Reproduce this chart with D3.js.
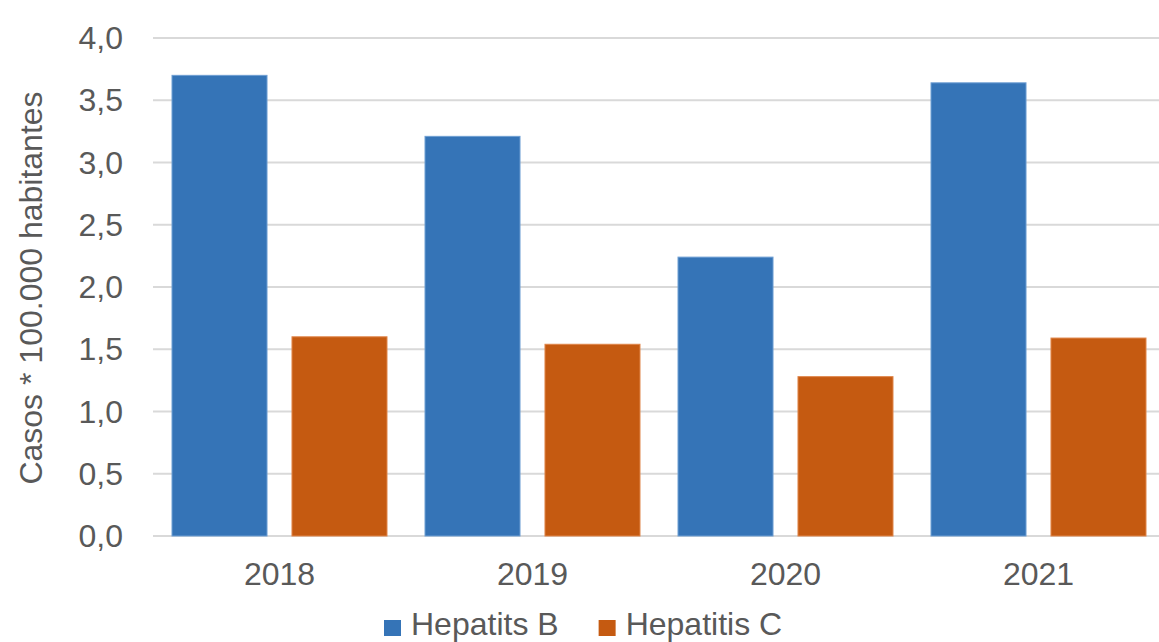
<!DOCTYPE html>
<html>
<head>
<meta charset="utf-8">
<script src="https://d3js.org/d3.v7.min.js"></script>
<style>
  body { margin: 0; background: #fff; }
  text { font-family: "Liberation Sans", Arial, sans-serif; fill: #595959; }
</style>
</head>
<body>
<div id="chart"></div>
<script>
// data
const years = ["2018", "2019", "2020", "2021"];
const seriesNames = ["Hepatits B", "Hepatitis C"];
const hepB = [3.70, 3.21, 2.24, 3.64];
const hepC = [1.60, 1.54, 1.28, 1.59];
const yTicks = [0, 0.5, 1, 1.5, 2, 2.5, 3, 3.5, 4];
const colors = ["#3574b7", "#c55a11"];
const strokes = ["#6f9fd3", "#e0864a"];

const width = 1159, height = 642;
const margin = {left: 153, right: -6, top: 38, bottom: 106};

const svg = d3.select("#chart").append("svg")
  .attr("width", width)
  .attr("height", height);

const x0 = d3.scaleBand()
  .domain(years)
  .range([margin.left, width - margin.right])
  .padding(0);

const x1 = d3.scaleBand()
  .domain(seriesNames)
  .range([19, x0.bandwidth() - 19])
  .paddingInner(0.208);

const y = d3.scaleLinear()
  .domain([0, 4])
  .range([height - margin.bottom, margin.top]);

// gridlines
svg.append("g")
  .selectAll("line")
  .data(yTicks)
  .enter()
  .append("line")
  .attr("x1", margin.left)
  .attr("x2", width - margin.right)
  .attr("y1", d => y(d))
  .attr("y2", d => y(d))
  .style("stroke", "#d9d9d9")
  .style("stroke-width", 2);

// y labels
const fmt = d => d3.format(".1f")(d).replace(".", ",");
svg.append("g")
  .selectAll("text")
  .data(yTicks)
  .enter()
  .append("text")
  .attr("x", 123)
  .attr("y", d => y(d))
  .attr("dy", "0.35em")
  .attr("text-anchor", "end")
  .style("font-size", "32px")
  .text(fmt);

// bars
const rows = years.map((yr, i) => ({year: yr, vals: [hepB[i], hepC[i]]}));
const groups = svg.append("g")
  .selectAll("g")
  .data(rows)
  .enter()
  .append("g")
  .attr("transform", d => `translate(${x0(d.year)},0)`);

groups.selectAll("rect")
  .data(d => d.vals.map((v, j) => ({name: seriesNames[j], v: v, j: j})))
  .enter()
  .append("rect")
  .attr("x", d => x1(d.name))
  .attr("width", x1.bandwidth())
  .attr("y", d => y(d.v))
  .attr("height", d => y(0) - y(d.v))
  .style("fill", d => colors[d.j])
  .style("stroke", d => strokes[d.j])
  .style("stroke-width", 1);

// x labels
svg.append("g")
  .selectAll("text")
  .data(years)
  .enter()
  .append("text")
  .attr("x", d => x0(d) + x0.bandwidth() / 2)
  .attr("y", 585)
  .attr("text-anchor", "middle")
  .style("font-size", "32px")
  .text(d => d);

// y title
svg.append("text")
  .attr("transform", `translate(42,${(margin.top + height - margin.bottom) / 2 + 1}) rotate(-90)`)
  .attr("text-anchor", "middle")
  .style("font-size", "32px")
  .text("Casos * 100.000 habitantes");

// legend
let lx = 384;
seriesNames.forEach((name, i) => {
  svg.append("rect")
    .attr("x", lx)
    .attr("y", 620)
    .attr("width", 17)
    .attr("height", 16)
    .style("fill", colors[i]);
  const t = svg.append("text")
    .attr("x", lx + 27)
    .attr("y", 635)
    .style("font-size", "32px")
    .text(name);
  lx += 27 + t.node().getComputedTextLength() + 40;
});
</script>
</body>
</html>
